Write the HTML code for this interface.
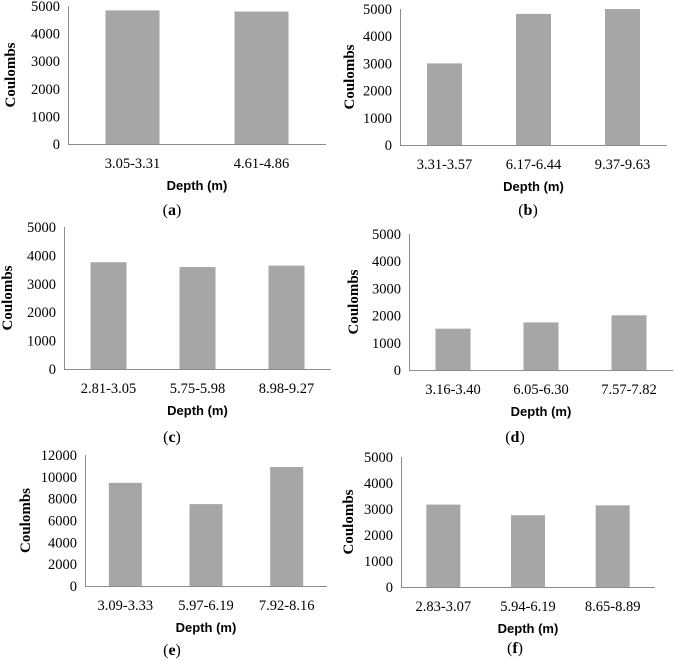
<!DOCTYPE html>
<html><head><meta charset="utf-8"><style>
body{margin:0;background:#fff;}
svg{display:block;}
text{font-family:"Liberation Serif",serif;fill:#000;}
.tick{font-size:14.5px;}
.ylab{font-size:15px;font-weight:bold;}
.xlab{font-family:"Liberation Sans",sans-serif;font-size:13px;font-weight:bold;}
.plab{font-size:16px;}
.plab tspan{font-weight:bold;}
</style></head><body>
<svg id="fig" width="674" height="660" viewBox="0 0 674 660" xmlns="http://www.w3.org/2000/svg"></svg>
<script>
const catsA=["3.05-3.31","4.61-4.86"];
const valsA=[4840,4800];
const catsB=["3.31-3.57","6.17-6.44","9.37-9.63"];
const valsB=[3000,4820,5000];
const catsC=["2.81-3.05","5.75-5.98","8.98-9.27"];
const valsC=[3760,3590,3640];
const catsD=["3.16-3.40","6.05-6.30","7.57-7.82"];
const valsD=[1520,1750,2010];
const catsE=["3.09-3.33","5.97-6.19","7.92-8.16"];
const valsE=[9450,7500,10900];
const catsF=["2.83-3.07","5.94-6.19","8.65-8.89"];
const valsF=[3170,2760,3140];
const ticks5=[0,1000,2000,3000,4000,5000];
const ticks12=[0,2000,4000,6000,8000,10000,12000];

const NS="http://www.w3.org/2000/svg";
const svg=document.getElementById('fig');
function mk(tag,attrs,parent){const e=document.createElementNS(NS,tag);for(const k in attrs)e.setAttribute(k,attrs[k]);(parent||svg).appendChild(e);return e;}

function panel(id,cats,vals,ticks,g){
  const grp=mk('g',{});
  
  
  const max=ticks[ticks.length-1];
  const y=v=>g.y0-(v/max)*(g.y0-g.ytop);
  const n=cats.length, step=(g.x1-g.x0)/n;
  const cx=i=>g.x0+step*(i+0.5);
  for(const t of ticks){
    const tx=mk('text',{x:g.x0-8,y:y(t)+5,'text-anchor':'end',class:'tick'},grp);
    tx.textContent=t;
    
    
  }
  vals.forEach((v,i)=>{
    const r=mk('rect',{x:cx(i)-g.bw/2,y:y(v),width:g.bw,height:g.y0-y(v),fill:'#a6a6a6'},grp);
    
    
  });
  cats.forEach((c,i)=>{
    const tx=mk('text',{x:cx(i),y:g.y0+24,'text-anchor':'middle',class:'tick'},grp);
    tx.textContent=c;
    
    
  });
  const ax=mk('line',{x1:g.x0,y1:g.y0+0.5,x2:g.x1,y2:g.y0+0.5,stroke:'#8c8c8c','stroke-width':1},grp);
  
  
  const ay=mk('line',{x1:g.x0+0.5,y1:g.ytop,x2:g.x0+0.5,y2:g.y0,stroke:'#8c8c8c','stroke-width':1},grp);
  
  
  const ymid=(g.y0+g.ytop)/2;
  const yl=mk('text',{x:g.ylx,y:ymid,'text-anchor':'middle',class:'ylab',transform:`rotate(-90 ${g.ylx} ${ymid})`},grp);
  yl.textContent='Coulombs';
  
  
  const xl=mk('text',{x:(g.x0+g.x1)/2,y:g.y0+46,'text-anchor':'middle',class:'xlab'},grp);
  xl.textContent='Depth (m)';
  
  
  const pl=mk('text',{x:g.px,y:g.py,'text-anchor':'middle',class:'plab'},grp);
  
  
  pl.appendChild(document.createTextNode('('));
  const ts=mk('tspan',{},pl); ts.textContent=id;
  pl.appendChild(document.createTextNode(')'));
}
panel('a',catsA,valsA,ticks5,{x0:68,x1:326,y0:144,ytop:6,bw:54,ylx:15,px:172,py:215});
panel('b',catsB,valsB,ticks5,{x0:400,x1:667,y0:145,ytop:9,bw:35,ylx:354,px:528,py:215});
panel('c',catsC,valsC,ticks5,{x0:64,x1:331,y0:369,ytop:227,bw:36,ylx:12,px:172,py:442});
panel('d',catsD,valsD,ticks5,{x0:409,x1:673,y0:370,ytop:234,bw:35,ylx:358,px:515,py:442});
panel('e',catsE,valsE,ticks12,{x0:85,x1:327,y0:586,ytop:455,bw:33,ylx:30,px:172,py:655});
panel('f',catsF,valsF,ticks5,{x0:401,x1:655,y0:587,ytop:457,bw:34,ylx:353,px:515,py:653});
</script>
</body></html>
